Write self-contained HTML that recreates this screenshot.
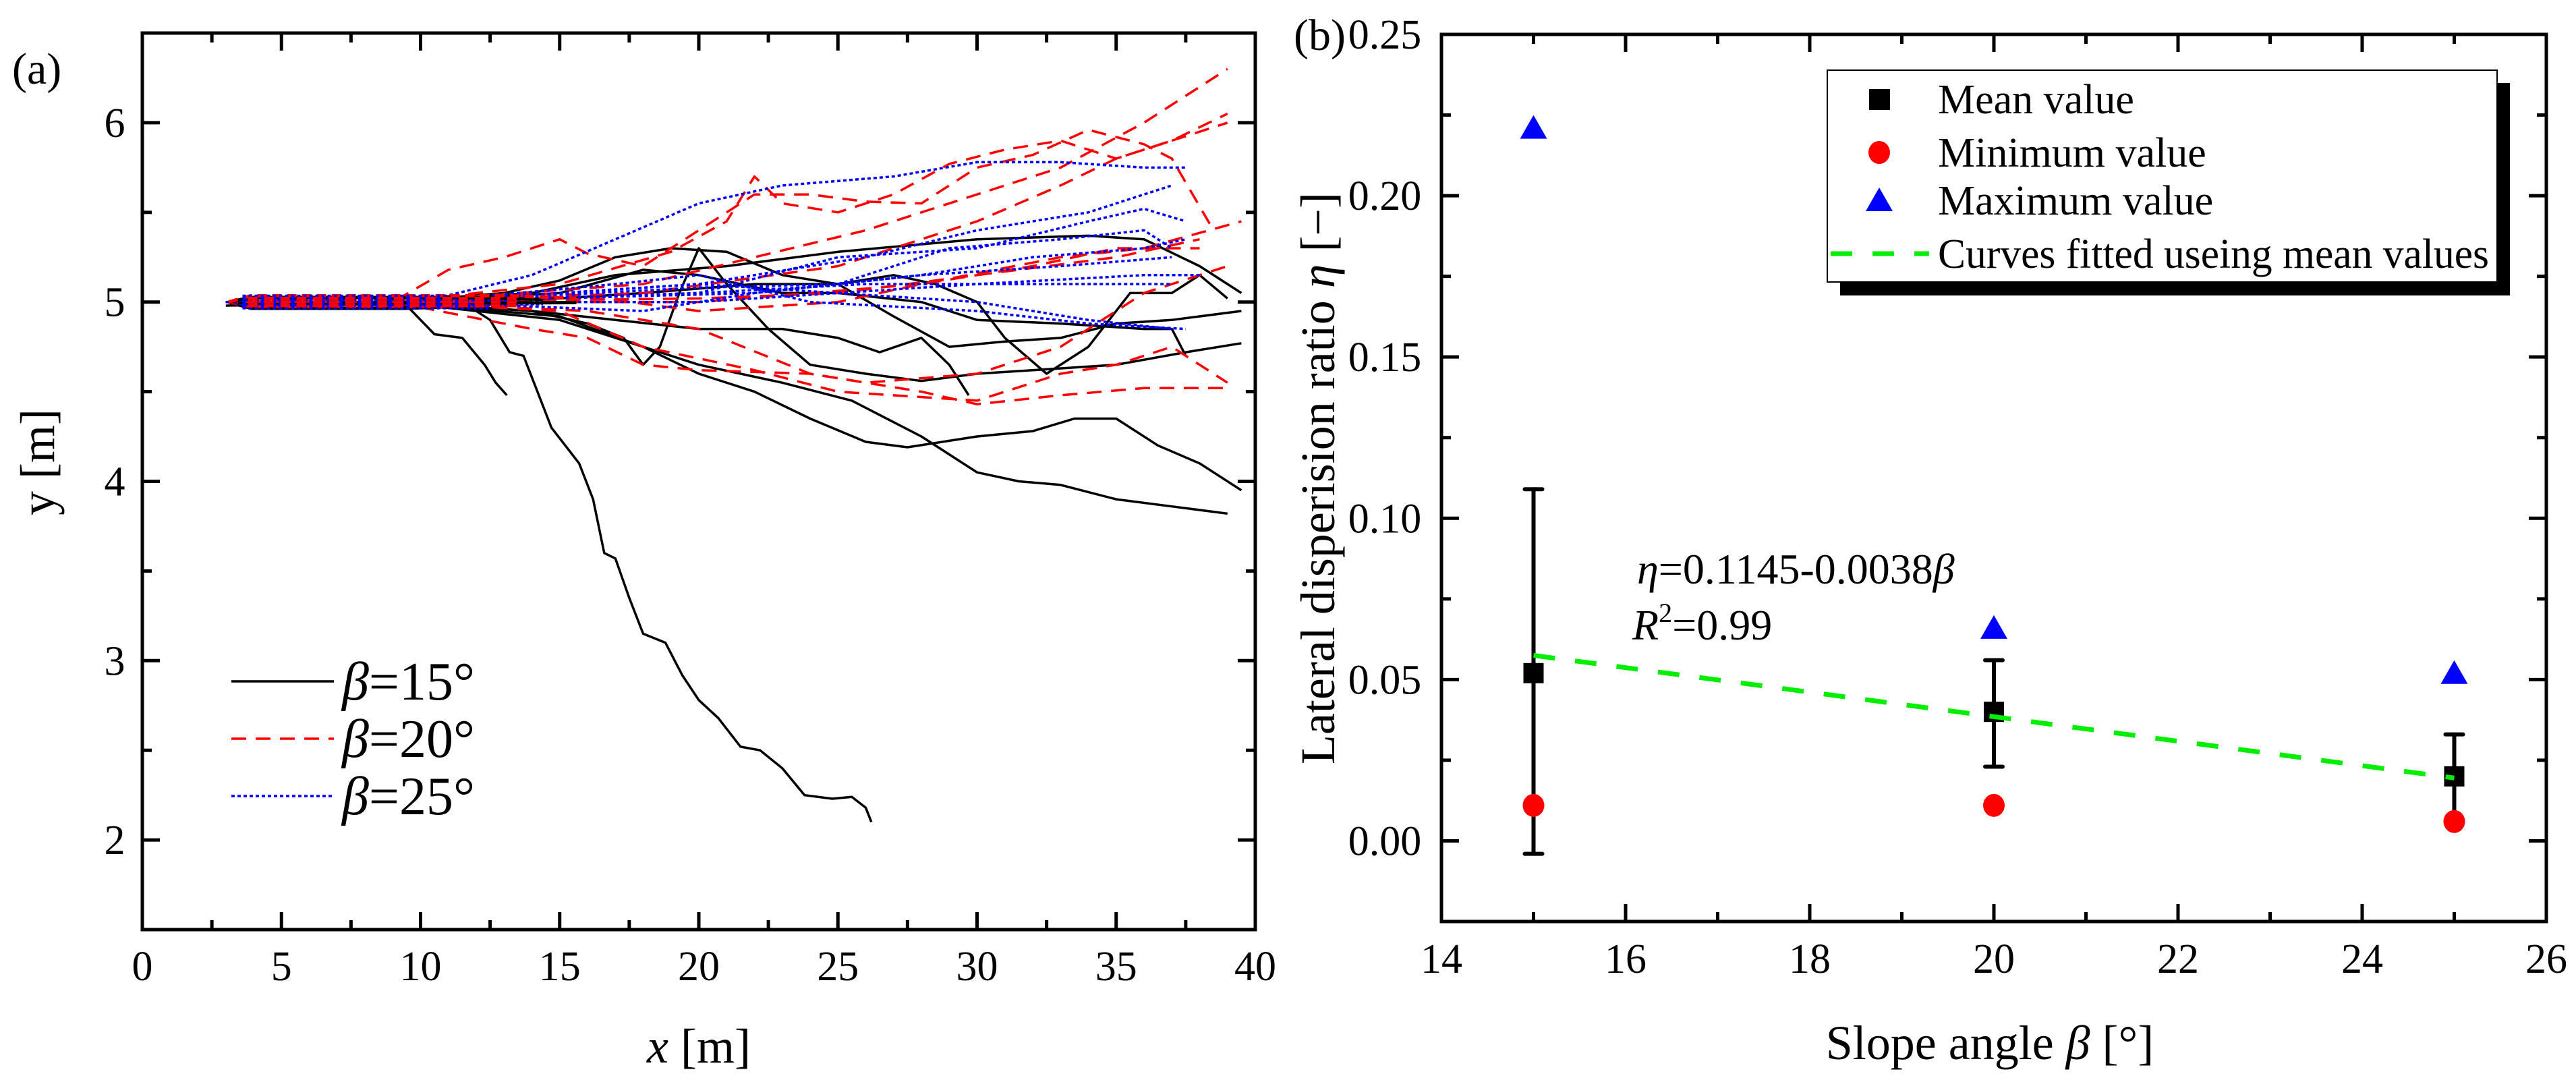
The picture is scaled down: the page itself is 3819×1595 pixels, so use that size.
<!DOCTYPE html>
<html><head><meta charset="utf-8">
<style>
html,body{margin:0;padding:0;background:#fff;}
svg{display:block;font-family:"Liberation Serif","DejaVu Serif",serif;}
</style></head>
<body>
<svg id="chart" width="3819" height="1595" viewBox="0 0 3819 1595" xmlns="http://www.w3.org/2000/svg">
<rect x="0" y="0" width="3819" height="1595" fill="#fff"/>
<g id="panelA"></g>
<g id="panelB"></g>
</svg>
<script>
// ---------- Panel (a) data ----------
const aXTicks = [0,5,10,15,20,25,30,35,40];
const aYTicks = [2,3,4,5,6];
const seriesNames = ["β=15°","β=20°","β=25°"];
const black15 = [
 [[3,5],[9.5,4.98],[10.5,4.82],[11.5,4.8],[12.3,4.65],[12.7,4.55],[13.1,4.48]],
 [[3,4.98],[11.5,5],[12.5,4.9],[13.2,4.72],[13.7,4.7],[14.2,4.5],[14.7,4.3],[15.2,4.2],[15.7,4.1],[16.2,3.9],[16.6,3.6],[17,3.57],[17.5,3.35],[18,3.15],[18.8,3.1],[19.4,2.92],[20,2.78],[20.7,2.68],[21.5,2.52],[22.2,2.5],[23,2.4],[23.8,2.25],[24.8,2.23],[25.5,2.24],[26,2.18],[26.2,2.1]],
 [[3,5],[9,5],[15,4.9],[18,4.75],[20,4.6],[22,4.5],[24,4.35],[26,4.22],[27.5,4.19],[30,4.25],[32,4.28],[33.5,4.35],[35,4.35],[36.5,4.2],[38,4.1],[39.5,3.95]],
 [[3,5],[9,5],[15,4.92],[18,4.75],[20,4.65],[23,4.55],[25.5,4.45],[28,4.25],[30,4.05],[31.5,4.0],[33,3.98],[35,3.9],[37,3.86],[39,3.82]],
 [[3,5],[9,5],[13,5.05],[15,5.12],[17,5.25],[19,5.3],[21,5.28],[23,5.15],[25,5.1],[27,5.15],[28.5,5.1],[30,5.0],[31,4.8],[32.5,4.6],[34,4.75],[35.5,5.05],[37,5.05],[38,5.15],[39,5.02]],
 [[3,5],[9,5],[14,5.05],[17,5.15],[21,5.2],[25,5.28],[30,5.35],[34,5.37],[36,5.35],[38,5.2],[39.5,5.05]],
 [[3,5],[9,5],[14,4.95],[16,4.88],[17.3,4.8],[18,4.65],[18.6,4.75],[19.3,5.05],[20,5.3],[21,5.1],[22.5,4.85],[24,4.65],[26,4.6],[28,4.56],[30,4.6],[32,4.62],[35,4.65],[37.5,4.72],[39.5,4.77]],
 [[3,5],[9,5],[14,4.95],[17,4.9],[20,4.85],[23,4.85],[25,4.8],[26.5,4.72],[28,4.8],[29,4.65],[29.7,4.48]],
 [[3,5],[9,5],[15,5.02],[18,5.05],[22,5.1],[25,5.1],[27,4.92],[29,4.75],[31,4.78],[33,4.8],[35,4.88],[37,4.9],[39.5,4.95]],
 [[3,5],[9,5],[15,5.05],[18,5.18],[20,5.15],[23,5.05],[25,5.05],[28,5.0],[30,4.9],[33,4.88],[36,4.85],[37,4.85],[37.5,4.7]]
];
const red20 = [
 [[3,5],[9,5],[11,5.18],[13,5.25],[15,5.35],[16,5.27],[18,5.2],[20,5.4],[21.5,5.55],[22,5.6],[24,5.6],[26,5.56],[28,5.55],[30,5.75],[32,5.82],[34,5.96],[36,5.88],[37,5.8],[38.5,5.4]],
 [[3,5],[9,5],[15,5.1],[19,5.28],[21,5.45],[22,5.7],[23,5.55],[25,5.5],[27,5.6],[29,5.77],[31,5.85],[33,5.9],[35,5.8],[37,5.9],[39,6.05]],
 [[3,5],[9,5],[18,5.1],[22,5.25],[26,5.4],[30,5.6],[33,5.75],[36,6.0],[39,6.3]],
 [[3,5],[9,5],[18,5.05],[25,5.2],[30,5.45],[33,5.65],[35,5.8],[37,5.9],[39,6.0]],
 [[3,5],[9,5],[20,5.0],[28,5.1],[33,5.25],[36,5.3],[39.5,5.45]],
 [[3,5],[9,5],[14,4.85],[16,4.8],[18,4.65],[20,4.62],[24,4.6],[28,4.5],[30,4.43],[33,4.48],[36,4.52],[39,4.52]],
 [[3,5],[9,5],[15,4.95],[18,4.75],[22,4.62],[25,4.5],[30,4.45],[33,4.6],[35,4.65],[37,4.75],[38,4.65],[39,4.55]],
 [[3,5],[9,5],[16,4.95],[20,4.85],[24,4.6],[26,4.55],[30,4.6],[33,4.75],[36,5.05],[39,5.2]],
 [[3,5],[9,5],[15,5.05],[20,4.95],[25,5.0],[28,5.1],[32,5.2],[35,5.3],[38,5.3]],
 [[3,5],[9,5],[20,5.02],[25,5.05],[30,5.15],[35,5.25],[38,5.35]]
];
const blue25 = [
 [[3,5],[10,5],[14,5.15],[17,5.35],[20,5.55],[23,5.65],[27,5.7],[30,5.78],[33,5.78],[36,5.75],[37.5,5.75]],
 [[3,5],[10,5],[20,5.1],[26,5.25],[30,5.4],[34,5.5],[37,5.65]],
 [[3,5],[10,5],[20,5.05],[25,5.25],[30,5.3],[34,5.45],[36,5.52],[37.5,5.45]],
 [[3,5],[10,5],[20,5.08],[25,5.1],[29,5.3],[33,5.35],[36,5.4],[37,5.3]],
 [[3,5],[10,5],[20,5.1],[25,5.05],[30,5.0],[34,4.9],[37,4.85]],
 [[3,5],[10,5],[18,4.95],[22,5.05],[28,5.15],[33,5.2],[37,5.25]],
 [[3,5],[10,5],[20,5.05],[26,5.1],[32,5.1],[37,5.1]],
 [[3,5],[10,5],[17,5.1],[20,5.15],[24,5.0],[30,4.95],[34,4.88],[37.5,4.85]],
 [[3,5],[10,5],[22,5.05],[28,5.15],[32,5.25],[36,5.3],[37.5,5.35]],
 [[3,5],[10,5],[20,5.0],[25,5.05],[30,5.1],[36,5.15],[38,5.15]]
];
// start band offsets (m) of the overlapping trajectories near release
const bandOffsets = [-0.035,-0.025,-0.015,-0.005,0.005,0.015,0.025,0.035];
// ---------- Panel (b) data ----------
const bXTicks = [14,16,18,20,22,24,26];
const bYTicks = [0.00,0.05,0.10,0.15,0.20,0.25];
const bYTickLabels = ["0.00","0.05","0.10","0.15","0.20","0.25"];
const slopes = [15,20,25];
const meanVals = [0.052,0.040,0.020];
const errLow = [-0.004,0.023,0.006];
const errHigh = [0.109,0.056,0.033];
const minVals = [0.011,0.011,0.006];
const maxVals = [0.221,0.066,0.052];
const fitIntercept = 0.1145, fitSlope = -0.0038;
const fitRange = [15,25];

const NS = "http://www.w3.org/2000/svg";
function mk(tag, attrs, parent){const e=document.createElementNS(NS,tag);for(const k in attrs)e.setAttribute(k,attrs[k]);parent.appendChild(e);return e;}

// ---------- Panel (a) ----------
const A = {l:211,r:1861,t:49,b:1378,x0:0,x1:40,y0:1.5,y1:6.5};
const ax = v => A.l + (v-A.x0)/(A.x1-A.x0)*(A.r-A.l);
const ay = v => A.b - (v-A.y0)/(A.y1-A.y0)*(A.b-A.t);
const pa = document.getElementById('panelA');

function drawSeries(arr, color, dash, width, name){
  const g = mk('g',{},pa);
  
  
  arr.forEach((pts)=>{
    const d = pts.map((p,j)=>(j?'L':'M')+ax(p[0]).toFixed(1)+' '+ay(p[1]).toFixed(1)).join(' ');
    const p = mk('path',{d:d,fill:'none',stroke:color,'stroke-width':width,'stroke-dasharray':dash,'stroke-linejoin':'round'},g);
    
    
  });
}
drawSeries(black15,'#000','none',3.5,'series-beta-15');
drawSeries(red20,'#ff0000','22 14',3.5,'series-beta-20');
drawSeries(blue25,'#0000ff','5 4',3.5,'series-beta-25');
// dense start band
(function(){
  const g = mk('g',{},pa);
  
  
  const cols=['#000','#ff0000','#0000ff'];
  bandOffsets.forEach((o,i)=>{
    const end = 9.5 + (i%4)*1.2;
    mk('path',{d:`M${ax(3.1)} ${ay(5)} L${ax(3.9)} ${ay(5+o)} L${ax(end)} ${ay(5+o)} L${ax(end+2.5)} ${ay(5+o*0.6)}`,fill:'none',stroke:cols[i%3],'stroke-width':5,'stroke-dasharray':i%3===0?'none':(i%3===1?'14 8':'5 3')},g);
  });
  // blue dotted heavy overlay
  for(let k=0;k<5;k++){
    const o=-0.03+k*0.015;
    mk('line',{x1:ax(3.6),y1:ay(5+o),x2:ax(12.5-k*0.4),y2:ay(5+o),stroke:'#0000ff','stroke-width':6,'stroke-dasharray':'5 4'},g);
  }
  for(let k=0;k<3;k++){
    const o=-0.02+k*0.02;
    mk('line',{x1:ax(3.8),y1:ay(5+o),x2:ax(13.5),y2:ay(5+o),stroke:'#ff0000','stroke-width':5,'stroke-dasharray':'14 10'},g);
  }
})();
// frame and ticks
function frame(P, parent, name){
  const r = mk('rect',{x:P.l,y:P.t,width:P.r-P.l,height:P.b-P.t,fill:'none',stroke:'#000','stroke-width':5},parent);
  
  
}
frame(A,pa,'plot-frame-a');
const tickG = mk('g',{stroke:'#000','stroke-width':5},pa);


for(let v=0; v<=40; v+=2.5){
  const L = (v%5===0)?26:14, x=ax(v);
  mk('line',{x1:x,y1:A.b,x2:x,y2:A.b-L},tickG);
  mk('line',{x1:x,y1:A.t,x2:x,y2:A.t+L},tickG);
}
for(let v=1.5; v<=6.5; v+=0.5){
  const L = (Math.abs(v-Math.round(v))<1e-6)?26:14, y=ay(v);
  mk('line',{x1:A.l,y1:y,x2:A.l+L,y2:y},tickG);
  mk('line',{x1:A.r,y1:y,x2:A.r-L,y2:y},tickG);
}
aXTicks.forEach(v=>{
  const t=mk('text',{x:ax(v),y:1453,'font-size':62,'text-anchor':'middle'},pa);t.textContent=v;
  
  
});
aYTicks.forEach(v=>{
  const t=mk('text',{x:170,y:ay(v)+21,'font-size':62,'text-anchor':'middle'},pa);t.textContent=v;
  
  
});
(function(){
  let t=mk('text',{x:1036,y:1575,'font-size':72,'text-anchor':'middle'},pa);
  t.innerHTML='<tspan font-style="italic">x</tspan> [m]';
  
  
  t=mk('text',{x:0,y:0,'font-size':72,'text-anchor':'middle',transform:'translate(80,685) rotate(-90)'},pa);
  t.textContent='y [m]';
  
  
  t=mk('text',{x:18,y:124,'font-size':66},pa);t.textContent='(a)';
  
  
})();
// legend (a)
(function(){
  const g=mk('g',{},pa);
  
  
  const cols=['#000','#ff0000','#0000ff'], dashes=['none','22 14','5 4'], ys=[1010,1095,1180];
  for(let i=0;i<3;i++){
    const e=mk('g',{},g);
    
    
    mk('line',{x1:343,y1:ys[i],x2:495,y2:ys[i],stroke:cols[i],'stroke-width':3.5,'stroke-dasharray':dashes[i]},e);
    const t=mk('text',{x:507,y:ys[i]+27,'font-size':80},e);
    t.innerHTML='<tspan font-style="italic">β</tspan>='+seriesNames[i].slice(2);
  }
})();

// ---------- Panel (b) ----------
const B = {l:2137,r:3775,t:51,b:1366,x0:14,x1:26,y0:-0.025,y1:0.25};
const bx = v => B.l + (v-B.x0)/(B.x1-B.x0)*(B.r-B.l);
const by = v => B.b - (v-B.y0)/(B.y1-B.y0)*(B.b-B.t);
const pb = document.getElementById('panelB');
frame(B,pb,'plot-frame-b');
const tickB = mk('g',{stroke:'#000','stroke-width':5},pb);


for(let v=14; v<=26; v+=1){
  const L=(v%2===0)?26:14, x=bx(v);
  mk('line',{x1:x,y1:B.b,x2:x,y2:B.b-L},tickB);
  mk('line',{x1:x,y1:B.t,x2:x,y2:B.t+L},tickB);
}
for(let k=-1; k<=10; k++){
  const v=k*0.025, L=(k%2===0)?26:14, y=by(v);
  mk('line',{x1:B.l,y1:y,x2:B.l+L,y2:y},tickB);
  mk('line',{x1:B.r,y1:y,x2:B.r-L,y2:y},tickB);
}
bXTicks.forEach(v=>{
  const t=mk('text',{x:bx(v),y:1442,'font-size':62,'text-anchor':'middle'},pb);t.textContent=v;
  
  
});
bYTicks.forEach((v,i)=>{
  const t=mk('text',{x:2053,y:by(v)+21,'font-size':62,'text-anchor':'middle'},pb);t.textContent=bYTickLabels[i];
  
  
});
(function(){
  let t=mk('text',{x:2950,y:1570,'font-size':72,'text-anchor':'middle'},pb);
  t.innerHTML='Slope angle <tspan font-style="italic">β</tspan> [°]';
  
  
  t=mk('text',{x:0,y:0,'font-size':72,'text-anchor':'middle',transform:'translate(1978,709) rotate(-90)'},pb);
  t.innerHTML='Lateral disperision ratio <tspan font-style="italic">η</tspan> [−]';
  
  
  t=mk('text',{x:1918,y:74,'font-size':66},pb);t.textContent='(b)';
  
  
})();
slopes.forEach((s,i)=>{
  const x=bx(s);
  const g=mk('g',{stroke:'#000','stroke-width':6,'stroke-linecap':'round'},pb);
  
  
  mk('line',{x1:x,y1:by(errLow[i]),x2:x,y2:by(errHigh[i])},g);
  mk('line',{x1:x-13,y1:by(errLow[i]),x2:x+13,y2:by(errLow[i])},g);
  mk('line',{x1:x-13,y1:by(errHigh[i]),x2:x+13,y2:by(errHigh[i])},g);
  const c=mk('ellipse',{cx:x,cy:by(minVals[i]),rx:16,ry:17,fill:'#ff0000'},pb);
  
  
  const yT=by(maxVals[i]);
  const tr=mk('polygon',{points:`${x},${yT-19} ${x-20},${yT+16} ${x+20},${yT+16}`,fill:'#0000ff'},pb);
  
  
  const sq=mk('rect',{x:x-15,y:by(meanVals[i])-15,width:30,height:30,fill:'#000'},pb);
  
  
});
(function(){
  const x1=fitRange[0],x2=fitRange[1];
  const l=mk('line',{x1:bx(x1),y1:by(fitIntercept+fitSlope*x1),x2:bx(x2),y2:by(fitIntercept+fitSlope*x2),stroke:'#00ee00','stroke-width':7,'stroke-dasharray':'32 30'},pb);
  
  
  let t=mk('text',{x:2427,y:865,'font-size':64},pb);
  t.innerHTML='<tspan font-style="italic">η</tspan>=0.1145-0.0038<tspan font-style="italic">β</tspan>';
  
  
  t=mk('text',{x:2420,y:948,'font-size':64},pb);
  t.innerHTML='<tspan font-style="italic">R</tspan><tspan font-size="40" dy="-26">2</tspan><tspan dy="26">=0.99</tspan>';
  
  
})();
(function(){
  const g=mk('g',{},pb);
  
  
  mk('rect',{x:2728,y:123,width:993,height:315,fill:'#000'},g);
  mk('rect',{x:2709,y:104,width:993,height:314,fill:'#fff',stroke:'#000','stroke-width':2},g);
  const ys=[147,226,297,376];
  const labels=['Mean value','Minimum value','Maximum value','Curves fitted useing mean values'];
  const mx=2786;
  mk('rect',{x:mx-15,y:ys[0]-15,width:31,height:31,fill:'#000'},g);
  mk('ellipse',{cx:mx,cy:ys[1],rx:16,ry:17,fill:'#ff0000'},g);
  mk('polygon',{points:`${mx},${ys[2]-19} ${mx-20},${ys[2]+16} ${mx+20},${ys[2]+16}`,fill:'#0000ff'},g);
  mk('line',{x1:2714,y1:ys[3],x2:2860,y2:ys[3],stroke:'#00ee00','stroke-width':7,'stroke-dasharray':'32 30'},g);
  labels.forEach((s,i)=>{
    const t=mk('text',{x:2873,y:ys[i]+21,'font-size':62},g);t.textContent=s;
    if(i===3){t.setAttribute('textLength','817');t.setAttribute('lengthAdjust','spacingAndGlyphs');}
    
    
  });
})();
</script>
</body></html>
